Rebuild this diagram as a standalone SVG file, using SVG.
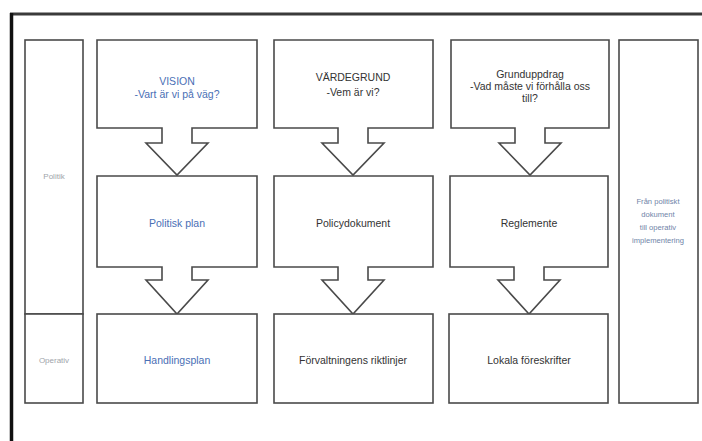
<svg xmlns="http://www.w3.org/2000/svg" width="702" height="441" viewBox="0 0 702 441">
<style>
.box{fill:#fff;stroke:#4a4a4a;stroke-width:1.6}
.t{font-family:"Liberation Sans",Arial,sans-serif;font-size:10.5px;text-anchor:middle;fill:#333}
.b{fill:#4a6fb5}
.s{font-family:"Liberation Sans",Arial,sans-serif;font-size:8px;text-anchor:middle;fill:#a0a4aa}
.r{fill:#6f84a8;font-size:7.6px}
</style>
<rect width="702" height="441" fill="#fff"/>
<g id="frame">
<line x1="10" y1="14" x2="702" y2="14" stroke="#3a3a3a" stroke-width="3"/>
<line x1="11.5" y1="13" x2="11.5" y2="441" stroke="#111" stroke-width="3.5"/>
</g>
<g id="side-left">
<rect class="box" x="25" y="40" width="58" height="274"/>
<rect class="box" x="25" y="314" width="58" height="89"/>
<text class="s" x="54" y="179">Politik</text>
<text class="s" x="54" y="363">Operativ</text>
</g>
<g id="side-right">
<rect class="box" x="619" y="40" width="79" height="363"/>
<text class="s r" x="658" y="204">Från politiskt</text>
<text class="s r" x="658" y="217">dokument</text>
<text class="s r" x="658" y="230">till operativ</text>
<text class="s r" x="658" y="243">implementering</text>
</g>
<g id="connectors">
</g>
<g id="vision">
<path class="box" d="M97,40 H257 V128 H192 V143 H208 L177,175 L146,143 H162 V128 H97 Z"/>
<text class="t b" x="177" y="85">VISION</text>
<text class="t b" x="177" y="98">-Vart är vi på väg?</text>
</g>
<g id="politisk-plan">
<path class="box" d="M97,176 H257 V267 H192 V280 H208 L177,314 L146,280 H162 V267 H97 Z"/>
<text class="t b" x="177" y="227">Politisk plan</text>
</g>
<g id="handlingsplan">
<rect class="box" x="97" y="314" width="160" height="89"/>
<text class="t b" x="177" y="364">Handlingsplan</text>
</g>
<g id="vardegrund">
<path class="box" d="M274,40 H433 V128 H368 V143 H384 L353,175 L322,143 H338 V128 H274 Z"/>
<text class="t" x="353" y="81">VÄRDEGRUND</text>
<text class="t" x="353" y="96">-Vem är vi?</text>
</g>
<g id="policydokument">
<path class="box" d="M274,176 H433 V267 H368 V280 H384 L353,314 L322,280 H338 V267 H274 Z"/>
<text class="t" x="353" y="227">Policydokument</text>
</g>
<g id="forvaltning">
<rect class="box" x="274" y="314" width="159" height="89"/>
<text class="t" x="353" y="364">Förvaltningens riktlinjer</text>
</g>
<g id="grunduppdrag">
<path class="box" d="M451,40 H609 V128 H545 V143 H561 L530,175 L499,143 H515 V128 H451 Z"/>
<text class="t" x="530" y="78">Grunduppdrag</text>
<text class="t" x="530" y="90">-Vad måste vi förhålla oss</text>
<text class="t" x="530" y="102">till?</text>
</g>
<g id="reglemente">
<path class="box" d="M450,176 H608 V267 H544 V280 H560 L529,314 L498,280 H514 V267 H450 Z"/>
<text class="t" x="529" y="227">Reglemente</text>
</g>
<g id="lokala">
<rect class="box" x="449" y="314" width="159" height="89"/>
<text class="t" x="529" y="364">Lokala föreskrifter</text>
</g>
</svg>
